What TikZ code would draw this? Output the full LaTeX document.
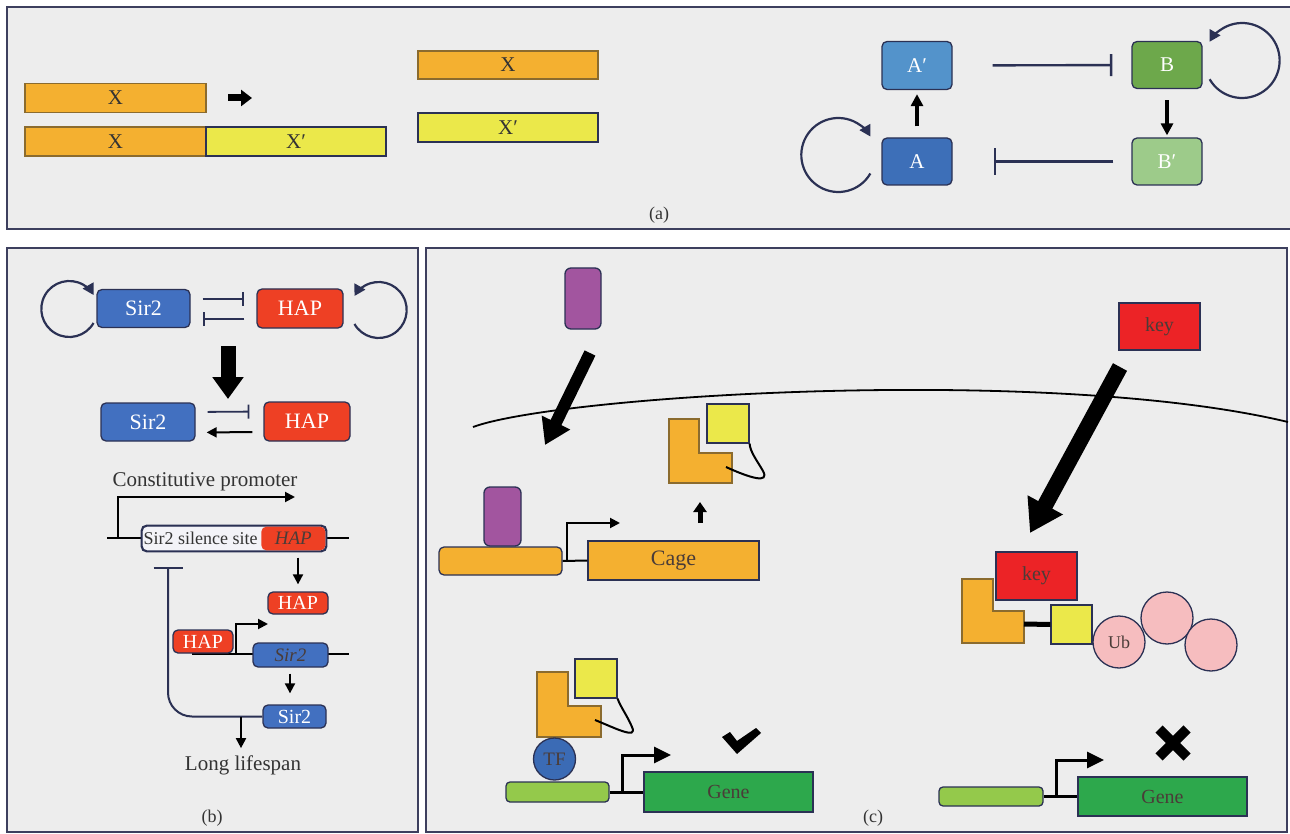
\documentclass[tikz,border=0pt]{standalone}
\usepackage{fontspec}
\setmainfont{Liberation Serif}
\usetikzlibrary{arrows.meta}
\definecolor{pbg}{HTML}{EDEDED}
\definecolor{pborder}{HTML}{3D3F5E}
\definecolor{navy}{HTML}{2B3154}
\definecolor{txt}{HTML}{333333}
\definecolor{orng}{HTML}{F4B030}
\definecolor{orngb}{HTML}{8B6B2E}
\definecolor{yell}{HTML}{EBE84A}
\definecolor{cAp}{HTML}{5393CB}
\definecolor{cA}{HTML}{3D6FB8}
\definecolor{cB}{HTML}{6DA84B}
\definecolor{cBp}{HTML}{9DCB8A}
\definecolor{sirb}{HTML}{4270C0}
\definecolor{hapr}{HTML}{EE4024}
\definecolor{purp}{HTML}{A2559F}
\definecolor{keyr}{HTML}{EC2326}
\definecolor{pink}{HTML}{F6BDBF}
\definecolor{lgreen}{HTML}{94C94B}
\definecolor{ggreen}{HTML}{2DA84C}
\definecolor{tfb}{HTML}{3B6BB5}
\definecolor{silw}{HTML}{F3F3F8}
\definecolor{dtxt}{HTML}{4A3C38}
\tikzset{
  panel/.style={draw=pborder, line width=1.8pt, fill=pbg},
  nbar/.style={draw, line width=1.2pt, minimum height=29pt, inner sep=0pt, font=\fontsize{21}{24}\selectfont, text=txt},
  rbox/.style={draw=navy, line width=1.3pt, rounded corners=5pt, inner sep=0pt, text=white},
  sbox/.style={draw=navy, line width=1.3pt, inner sep=0pt},
  inh/.style={draw=navy, line width=2.4pt, -{Bar[width=22pt]}},
  arr/.style={line width=2pt, -{Triangle[width=10pt,length=10pt]}},
  parr/.style={line width=3pt, -{Triangle[width=16pt,length=17pt]}},
  myloop/.style={draw=navy, line width=2.2pt, -{Triangle[width=12pt,length=11pt]}},
  lbl/.style={font=\fontsize{18}{21}\selectfont, text=txt, inner sep=0pt},
  shapeo/.style={fill=orng, draw=orngb, line width=1.2pt},
  shapey/.style={fill=yell, draw=navy, line width=1.2pt, inner sep=0pt},
}
\begin{document}
\begin{tikzpicture}[x=1pt,y=-1pt]
\useasboundingbox (0,0) rectangle (1290,834);
\fill[white] (0,0) rectangle (1290,834);
% panels
\draw[panel] (7,7) rectangle (1296,229);
\draw[panel] (7,248) rectangle (418,832);
\draw[panel] (426,248) rectangle (1287,832);

% ---------------- panel (a)
\node[nbar, fill=orng, draw=orngb, minimum width=181pt] (xa) at (115.5,98) {X};
\node[nbar, fill=orng, draw=orngb, minimum width=181pt] (xb) at (115.5,141.5) {X};
\node[nbar, fill=yell, draw=navy, minimum width=180pt] (xpb) at (296,141.5) {X′};
\node[nbar, fill=orng, draw=orngb, minimum width=180pt, minimum height=28pt] (xr) at (508,65) {X};
\node[nbar, fill=yell, draw=navy, minimum width=180pt] (xpr) at (508,127.5) {X′};
\coordinate (ar1) at (228,98);
\coordinate (ar2) at (252,98);
\draw[line width=7pt, -{Triangle[width=16pt,length=11pt]}] (ar1) -- (ar2);

\node[rbox, fill=cAp, minimum width=70pt, minimum height=48pt, font=\fontsize{21}{24}\selectfont] (Ap) at (917,65.5) {A′};
\node[rbox, fill=cA, minimum width=70pt, minimum height=47pt, font=\fontsize{21}{24}\selectfont] (A) at (917,161.5) {A};
\node[rbox, fill=cB, minimum width=70pt, minimum height=47pt, font=\fontsize{21}{24}\selectfont] (B) at (1167,65) {B};
\node[rbox, fill=cBp, minimum width=70pt, minimum height=47pt, font=\fontsize{21}{24}\selectfont] (Bp) at (1167,161.5) {B′};
\draw[inh, shorten <=40pt, shorten >=19pt] (Ap) -- (B);
\draw[inh, shorten <=18pt, shorten >=41pt, -{Bar[width=27pt]}] (Bp) -- (A);
\draw[line width=4pt, -{Triangle[width=12pt,length=12pt]}, shorten <=11pt, shorten >=4pt] (A.north) -- (Ap.south);
\draw[line width=4pt, -{Triangle[width=12pt,length=12pt]}, shorten <=11pt, shorten >=2pt] (B.south) -- (Bp.north);
\draw[myloop] ([shift={(-11,12)}]A.west) arc[start angle=30, end angle=330, radius=37];
\draw[myloop] ([shift={(7,14.25)}]B.east) arc[start angle=150, end angle=-150, radius=37.5];
\node[lbl] (la) at (659,215) {(a)};

% ---------------- panel (b)
\node[rbox, fill=sirb, minimum width=93pt, minimum height=38pt, font=\fontsize{22}{26}\selectfont] (s1) at (143.5,308.5) {Sir2};
\node[rbox, fill=hapr, minimum width=86pt, minimum height=39pt, font=\fontsize{22}{26}\selectfont] (h1) at (300,308.5) {HAP};
\draw[inh, -{Bar[width=14pt]}, shorten <=12pt, shorten >=12pt] ([shift={(0,-9.5)}]s1.east) -- ([shift={(0,-9.5)}]h1.west);
\draw[inh, -{Bar[width=14pt]}, shorten <=12pt, shorten >=12pt] ([shift={(0,10.5)}]h1.west) -- ([shift={(0,10.5)}]s1.east);
\draw[myloop] ([shift={(-2.8,14.5)}]s1.west) arc[start angle=30, end angle=330, radius=28];
\draw[myloop] ([shift={(10.8,15.5)}]h1.east) arc[start angle=150, end angle=-150, radius=28];
\coordinate (bigA) at (228,346);
\coordinate (bigB) at (228,399);
\draw[line width=15pt, -{Triangle[width=30pt,length=22pt]}] (bigA) -- (bigB);
\node[rbox, fill=sirb, minimum width=94pt, minimum height=38pt, font=\fontsize{22}{26}\selectfont] (s2) at (148,422) {Sir2};
\node[rbox, fill=hapr, minimum width=86pt, minimum height=39pt, font=\fontsize{22}{26}\selectfont] (h2) at (307,421.5) {HAP};
\draw[inh, line width=1.8pt, -{Bar[width=14pt]}, shorten <=12pt, shorten >=14pt] ([shift={(0,-10)}]s2.east) -- ([shift={(0,-10)}]h2.west);
\draw[arr, shorten <=11pt, shorten >=11pt] ([shift={(0,10.5)}]h2.west) -- ([shift={(0,10.5)}]s2.east);

\node[lbl, font=\fontsize{21}{24}\selectfont] (cp) at (205,482) {Constitutive promoter};
\coordinate (d1L) at (107,538);
\coordinate (d1R) at (349,538);
\draw[line width=2pt] (d1L) -- (d1R);
\coordinate (p1) at (118,538);
\coordinate (p1e) at (295,497);
\draw[arr] (p1) |- (p1e);
\node[rbox, fill=silw, minimum width=184pt, minimum height=25pt, text=txt] (sil) at (234,538.5) {};
\node[rbox, draw=none, fill=hapr, minimum width=64pt, minimum height=23.7pt, font=\fontsize{19}{22}\selectfont\itshape, text=dtxt] (hapg) at (293.35,538.5) {HAP};
\draw[draw=navy, line width=1.3pt, rounded corners=5pt] (sil.north west) rectangle (sil.south east);
\node[font=\fontsize{18}{21}\selectfont, text=txt, inner sep=0pt, anchor=west] (silt) at (143.5,538.5) {Sir2 silence site};
\node[rbox, fill=hapr, minimum width=60pt, minimum height=22pt, font=\fontsize{20}{23}\selectfont] (h3) at (298,603) {HAP};
\draw[arr, shorten <=6pt, shorten >=7pt] (h3.north |- sil.south) -- (h3.north);
\coordinate (d2L) at (192,654);
\coordinate (d2R) at (349,654);
\draw[line width=2pt] (d2L) -- (d2R);
\coordinate (p2) at (236,654);
\coordinate (p2e) at (268,624);
\draw[arr] (p2) |- (p2e);
\node[rbox, fill=hapr, minimum width=60pt, minimum height=23pt, font=\fontsize{20}{23}\selectfont] (h4) at (203,641.5) {HAP};
\node[rbox, fill=sirb, minimum width=75pt, minimum height=24pt, font=\fontsize{19}{22}\selectfont\itshape, text=dtxt] (sg) at (290.5,655) {Sir2};
\node[rbox, fill=sirb, minimum width=63pt, minimum height=23pt, font=\fontsize{20}{23}\selectfont] (s3) at (294.5,716.5) {Sir2};
\draw[arr, shorten <=6pt, shorten >=11pt] (sg.south -| 290,0) -- (s3.north -| 290,0);
\coordinate (sbar) at (168,567);
\draw[inh, line width=2pt, rounded corners=24pt, -{Bar[width=29pt]}] (s3.west) -| (sbar);
\node[lbl, font=\fontsize{21}{24}\selectfont] (life) at (243,765) {Long lifespan};
\coordinate (ll) at (241,716.5);
\draw[arr, shorten >=7pt] (ll) -- (life.north -| ll) ;
\node[lbl] (lb) at (212,818) {(b)};

% ---------------- panel (c)
\draw[line width=1.8pt] (473,427) .. controls (560,395) and (1050,365) .. (1288,422);
\node[rbox, fill=purp, minimum width=36pt, minimum height=61pt, rounded corners=6pt] (pu1) at (583,298.5) {};
\coordinate (pa1) at (590,353);
\coordinate (pa2) at (545,445);
\draw[line width=12pt, -{Triangle[width=30pt,length=25pt]}] (pa1) -- (pa2);
\node[rbox, fill=orng, minimum width=123pt, minimum height=28pt, rounded corners=5pt] (ob) at (500.5,561) {};
\node[rbox, fill=purp, minimum width=37pt, minimum height=59pt, rounded corners=6pt] (pu2) at (502.5,516.5) {};
\node[sbox, fill=orng, minimum width=171pt, minimum height=39pt, font=\fontsize{22}{26}\selectfont, text=dtxt] (cage) at (673.5,560.5) {Cage};
\draw[line width=2pt] (ob.east) -- (cage.west);
\coordinate (pc) at (567,561);
\coordinate (pce) at (620,523);
\draw[line width=2pt, -{Triangle[width=10pt,length=10pt]}] (pc) |- (pce);
\coordinate (ua1) at (700,523);
\coordinate (ua2) at (700,502);
\draw[line width=5pt, -{Triangle[width=13pt,length=10pt]}] (ua1) -- (ua2);
\draw[shapeo] (669,419) -- (699,419) -- (699,453) -- (732,453) -- (732,483) -- (669,483) -- cycle;
\node[shapey, minimum width=42pt, minimum height=39pt] (y1) at (728,423.5) {};
\draw[line width=2pt] (726,467) .. controls (750,478) and (770,484) .. (763,471) .. controls (758,462) and (750,452) .. (y1.south east);

\node[sbox, fill=keyr, minimum width=81pt, minimum height=47pt, font=\fontsize{20}{23}\selectfont, text=dtxt] (k1) at (1159.5,326.5) {key};
\coordinate (ka1) at (1120,367);
\coordinate (ka2) at (1030,533);
\draw[line width=16pt, -{Triangle[width=38pt,length=32pt]}] (ka1) -- (ka2);
\node[sbox, fill=keyr, minimum width=81pt, minimum height=48pt, font=\fontsize{20}{23}\selectfont, text=dtxt] (k2) at (1036.5,576) {key};
\draw[shapeo] (962,579) -- (993,579) -- (993,611) -- (1024,611) -- (1024,643) -- (962,643) -- cycle;
\node[shapey, minimum width=41pt, minimum height=39pt] (y2) at (1071.5,624.5) {};
\coordinate (lk) at (1024,624);
\draw[line width=5pt] (lk) -- (y2.west);
\node[circle, draw=navy, line width=1.3pt, fill=pink, minimum size=52pt, inner sep=0pt] (ub2) at (1167,618) {};
\node[circle, draw=navy, line width=1.3pt, fill=pink, minimum size=52pt, inner sep=0pt, font=\fontsize{18}{21}\selectfont, text=dtxt] (ub1) at (1119,642) {Ub};
\node[circle, draw=navy, line width=1.3pt, fill=pink, minimum size=52pt, inner sep=0pt] (ub3) at (1211,645) {};

\draw[shapeo] (537,672) -- (568,672) -- (568,706) -- (601,706) -- (601,737) -- (537,737) -- cycle;
\node[shapey, minimum width=42pt, minimum height=39pt] (y3) at (596,678.5) {};
\draw[line width=2pt] (595,720) .. controls (615,728) and (638,740) .. (632,727) .. controls (628,717) and (620,706) .. (y3.south east);
\node[circle, draw=navy, line width=1.3pt, fill=tfb, minimum size=42pt, inner sep=0pt, font=\fontsize{19}{22}\selectfont, text=dtxt] (tf) at (554.5,759) {TF};
\node[rbox, fill=lgreen, minimum width=103pt, minimum height=20pt, rounded corners=4pt] (gb1) at (557.5,792) {};
\node[sbox, fill=ggreen, minimum width=169pt, minimum height=40pt, font=\fontsize{20}{23}\selectfont, text=dtxt] (g1) at (728.5,792) {Gene};
\draw[line width=3pt] (gb1.east) -- (g1.west);
\coordinate (pg1) at (622,792);
\coordinate (pg1e) at (671,755);
\draw[parr] (pg1) |- (pg1e);
\draw[fill=black, draw=none] (722,737) -- (730,732) -- (737,741) -- (756,728) -- (761,733) -- (737,754) -- cycle;

\node[rbox, fill=lgreen, minimum width=104pt, minimum height=19pt, rounded corners=4pt] (gb2) at (991,796.5) {};
\node[sbox, fill=ggreen, minimum width=169pt, minimum height=39pt, font=\fontsize{20}{23}\selectfont, text=dtxt] (g2) at (1162.5,796.5) {Gene};
\draw[line width=3pt] (gb2.east) -- (g2.west);
\coordinate (pg2) at (1056,796.5);
\coordinate (pg2e) at (1104,760);
\draw[parr] (pg2) |- (pg2e);
\coordinate (xm) at (1173,743);
\draw[line width=10pt] ([shift={(-14,-14)}]xm) -- ([shift={(14,14)}]xm);
\draw[line width=10pt] ([shift={(14,-14)}]xm) -- ([shift={(-14,14)}]xm);
\node[lbl] (lc) at (873,818) {(c)};
\end{tikzpicture}
\end{document}
